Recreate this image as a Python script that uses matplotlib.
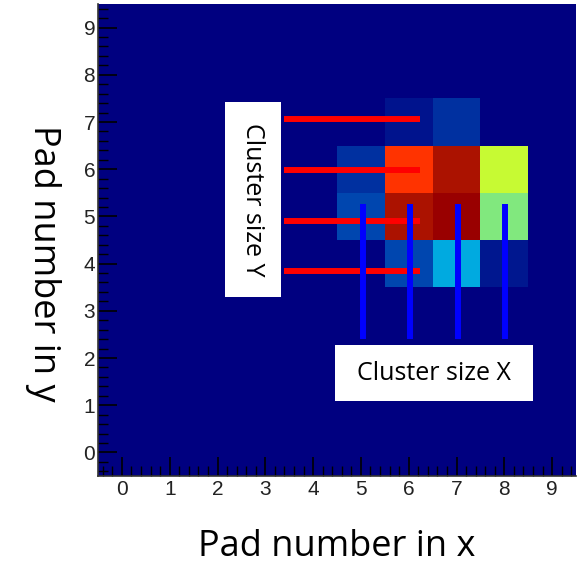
import numpy as np
import matplotlib
matplotlib.use("Agg")
import matplotlib.pyplot as plt
from matplotlib.colors import LinearSegmentedColormap
from matplotlib.ticker import MultipleLocator

# pad charge map (normalised), rows = pad y, cols = pad x
pad_x = [5, 6, 7, 8]
pad_y = [4, 5, 6, 7]
charge = [
    [0.00, 0.187, 0.35, 0.06],   # y = 4
    [0.187, 0.90, 1.00, 0.50],   # y = 5
    [0.127, 0.80, 0.90, 0.60],   # y = 6
    [0.00, 0.054, 0.127, 0.00],  # y = 7
]

# cluster size marker lines
red_y = [7.06, 5.99, 4.91, 3.84]
red_x = [3.40, 6.24]
blue_x = [5.05, 6.03, 7.03, 8.01]
blue_y = [2.40, 5.27]

grid = np.zeros((10, 10))
for i, yy in enumerate(pad_y):
    for j, xx in enumerate(pad_x):
        grid[yy, xx] = charge[i][j]

# ROOT-like rainbow palette
root_pal = LinearSegmentedColormap.from_list("root_rainbow", [
    (0.00, (0.0, 0.0, 0.5)),
    (0.20, (0.0, 0.30, 0.70)),
    (0.35, (0.0, 0.67, 0.88)),
    (0.50, (0.50, 0.91, 0.50)),
    (0.60, (0.78, 0.98, 0.20)),
    (0.70, (1.0, 0.85, 0.0)),
    (0.80, (1.0, 0.20, 0.0)),
    (0.90, (0.67, 0.07, 0.0)),
    (1.00, (0.60, 0.0, 0.0)),
])

fig = plt.figure(figsize=(5.77, 5.67), dpi=100)
W, H = 577, 567
ax = fig.add_axes([98 / W, (H - 476) / H, 478 / W, 472 / H])

edges = np.arange(-0.5, 10.0, 1.0)
ax.pcolormesh(edges, edges, grid, cmap=root_pal, vmin=0, vmax=1)
ax.set_xlim(-0.5, 9.5)
ax.set_ylim(-0.5, 9.5)

for yy in red_y:
    ax.plot(red_x, [yy, yy], color="#ff0000", lw=4.3, solid_capstyle="butt", zorder=3)
for xx in blue_x:
    ax.plot([xx, xx], blue_y, color="#0000ff", lw=4.3, solid_capstyle="butt", zorder=3)

# ROOT style ticks
ax.xaxis.set_major_locator(MultipleLocator(1))
ax.yaxis.set_major_locator(MultipleLocator(1))
ax.xaxis.set_minor_locator(MultipleLocator(0.2))
ax.yaxis.set_minor_locator(MultipleLocator(0.2))
ax.tick_params(which="major", direction="in", length=14, width=1.2, color="black",
               top=False, right=False)
ax.tick_params(which="minor", direction="in", length=7.5, width=1.0, color="black",
               top=False, right=False)
ax.tick_params(axis="x", pad=3)
ax.tick_params(axis="y", pad=2)
for lab in ax.get_xticklabels() + ax.get_yticklabels():
    lab.set_family("Liberation Sans")
    lab.set_fontsize(15)
    lab.set_color("#222222")
for s in ["top", "right"]:
    ax.spines[s].set_visible(False)
for s in ["left", "bottom"]:
    ax.spines[s].set_color("#333333")
    ax.spines[s].set_linewidth(1.2)

# white annotation boxes
def px_box(x0, y0, x1, y1):
    fig.patches.append(plt.Rectangle((x0 / W, 1 - y1 / H), (x1 - x0) / W, (y1 - y0) / H,
                                     transform=fig.transFigure, facecolor="white",
                                     edgecolor="none", zorder=5))

px_box(225, 102, 281, 297)
fig.text(252 / W, 1 - 200 / H, "Cluster size Y", rotation=270, ha="center", va="center",
         family="Open Sans", fontsize=18, color="black", zorder=6)
px_box(335, 345, 533, 401)
fig.text(434 / W, 1 - 374 / H, "Cluster size X", ha="center", va="center",
         family="Open Sans", fontsize=18, color="black", zorder=6)

fig.text(43 / W, 1 - 263 / H, "Pad number in y", rotation=270, ha="center", va="center",
         family="Open Sans", fontsize=26, color="black")
fig.text(337 / W, 1 - 547 / H, "Pad number in x", ha="center", va="center",
         family="Open Sans", fontsize=26, color="black")

fig.savefig("out.png", dpi=100)
